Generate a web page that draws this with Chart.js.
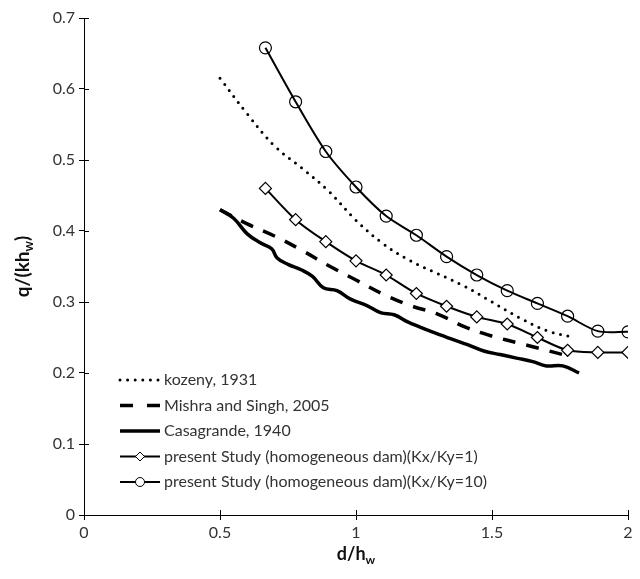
<!DOCTYPE html>
<html>
<head>
<meta charset="utf-8">
<script src="https://cdn.jsdelivr.net/npm/chart.js@4/dist/chart.umd.min.js"></script>
<style>
    html, body { margin: 0; background: #fff; }
</style>
</head>
<body>
<canvas id="seepage-chart" width="640" height="579"></canvas>
<script>
/* seepage discharge vs. d/hw */
const studyX = [0.667, 0.778, 0.889, 1.0, 1.111, 1.222, 1.333, 1.444, 1.556, 1.667, 1.778, 1.889, 2.0]
const studyK1 = [0.46, 0.416, 0.385, 0.358, 0.338, 0.312, 0.294, 0.279, 0.269, 0.25, 0.232, 0.229, 0.229]
const studyK10 = [0.658, 0.582, 0.512, 0.462, 0.421, 0.394, 0.364, 0.338, 0.316, 0.298, 0.28, 0.259, 0.258]

const kozenyX = [0.5, 0.6, 0.7, 0.8, 0.9, 1.0, 1.1, 1.2, 1.3, 1.4, 1.5, 1.6, 1.7, 1.8]
const kozenyY = [0.615, 0.565, 0.52, 0.489, 0.456, 0.415, 0.382, 0.358, 0.34, 0.322, 0.3, 0.278, 0.26, 0.25]

const mishraX = [0.5, 0.6, 0.7, 0.8, 0.9, 1.0, 1.1, 1.2, 1.3, 1.4, 1.5, 1.6, 1.7, 1.78]
const mishraY = [0.43, 0.41, 0.393, 0.373, 0.351, 0.331, 0.311, 0.295, 0.283, 0.265, 0.252, 0.242, 0.232, 0.224]

const casaX = [0.5, 0.55, 0.6, 0.65, 0.69, 0.71, 0.75, 0.8, 0.84, 0.88, 0.93, 0.98, 1.04, 1.09, 1.14, 1.19, 1.24, 1.28, 1.35, 1.41, 1.47, 1.53, 1.59, 1.65, 1.7, 1.76, 1.82]
const casaY = [0.43, 0.418, 0.396, 0.383, 0.375, 0.362, 0.353, 0.345, 0.336, 0.32, 0.316, 0.304, 0.295, 0.285, 0.282, 0.272, 0.264, 0.258, 0.248, 0.24, 0.231, 0.226, 0.221, 0.216, 0.21, 0.21, 0.2]

const xTicks = [0, 0.5, 1, 1.5, 2]
const yTicks = [0, 0.1, 0.2, 0.3, 0.4, 0.5, 0.6, 0.7]

const labels = [
    'kozeny, 1931',
    'Mishra and Singh, 2005',
    'Casagrande, 1940',
    'present Study (homogeneous dam)(Kx/Ky=1)',
    'present Study (homogeneous dam)(Kx/Ky=10)'
]

const pts = (xs, ys) => xs.map((x, i) => ({ x: x, y: ys[i] }))
const fmt = v => String(Number(v.toFixed(2)))

const TXT = '#333'
const FONT = 'Lato, "DejaVu Sans", sans-serif'

// text with a subscript part, centred on (cx, cy)
function subText(ctx, main, sub, tail, cx, cy, size) {
    ctx.font = 'bold ' + size + 'px ' + FONT
    const w1 = ctx.measureText(main).width
    const w3 = ctx.measureText(tail).width
    ctx.font = 'bold ' + Math.round(size * 0.68) + 'px ' + FONT
    const w2 = ctx.measureText(sub).width
    let x = cx - (w1 + w2 + w3) / 2
    ctx.textAlign = 'left'
    ctx.textBaseline = 'middle'
    ctx.font = 'bold ' + size + 'px ' + FONT
    ctx.fillText(main, x, cy)
    x += w1
    ctx.font = 'bold ' + Math.round(size * 0.68) + 'px ' + FONT
    ctx.fillText(sub, x, cy + size * 0.32)
    x += w2
    ctx.font = 'bold ' + size + 'px ' + FONT
    ctx.fillText(tail, x, cy)
}

const extras = {
    id: 'extras',
    afterDraw(chart) {
        const ctx = chart.ctx
        const area = chart.chartArea
        const sx = chart.scales.x
        const sy = chart.scales.y
        ctx.save()

        // inner half of the tick marks
        ctx.strokeStyle = '#000'
        ctx.lineWidth = 1
        ctx.beginPath()
        sx.ticks.forEach(t => {
            const px = Math.round(sx.getPixelForValue(t.value)) + 0.5
            ctx.moveTo(px, area.bottom)
            ctx.lineTo(px, area.bottom - 5)
        })
        sy.ticks.forEach(t => {
            const py = Math.round(sy.getPixelForValue(t.value)) + 0.5
            ctx.moveTo(area.left, py)
            ctx.lineTo(area.left + 5, py)
        })
        ctx.stroke()

        // axis titles
        ctx.fillStyle = '#111'
        subText(ctx, 'd/h', 'w', '', (area.left + area.right) / 2, 554, 18)
        ctx.save()
        ctx.translate(23, (area.top + area.bottom) / 2)
        ctx.rotate(-Math.PI / 2)
        subText(ctx, 'q/(kh', 'w', ')', 0, 0, 19)
        ctx.restore()

        // legend
        const lx = 120, lw = 40, ly = 380, step = 25.5
        chart.data.datasets.forEach((ds, i) => {
            const y = ly + i * step
            ctx.save()
            ctx.strokeStyle = ds.borderColor
            ctx.lineWidth = ds.borderWidth
            ctx.lineCap = ds.borderCapStyle || 'butt'
            ctx.setLineDash(ds.legendDash || ds.borderDash || [])
            ctx.beginPath()
            ctx.moveTo(lx, y)
            ctx.lineTo(lx + lw, y)
            ctx.stroke()
            ctx.restore()
            if (ds.pointRadius > 0) {
                ctx.save()
                ctx.fillStyle = '#fff'
                ctx.strokeStyle = '#000'
                ctx.lineWidth = 1
                Chart.helpers.drawPoint(ctx, { pointStyle: ds.pointStyle, radius: 4.5, borderWidth: 1 }, lx + lw / 2, y)
                ctx.restore()
            }
            ctx.fillStyle = TXT
            ctx.font = '16px ' + FONT
            ctx.textAlign = 'left'
            ctx.textBaseline = 'middle'
            ctx.fillText(labels[i], lx + lw + 4, y)
        })
        ctx.restore()
    }
}

new Chart(document.getElementById('seepage-chart'), {
    type: 'line',
    data: {
        datasets: [
            {
                label: labels[0],
                data: pts(kozenyX, kozenyY),
                borderColor: '#000',
                borderWidth: 3,
                borderDash: [0, 7.6],
                legendDash: [0, 7.6],
                borderCapStyle: 'round',
                pointRadius: 0,
                tension: 0.4,
                fill: false
            },
            {
                label: labels[1],
                data: pts(mishraX, mishraY),
                borderColor: '#000',
                borderWidth: 3.5,
                borderDash: [13, 11],
                legendDash: [13, 14],
                pointRadius: 0,
                tension: 0.4,
                fill: false
            },
            {
                label: labels[2],
                data: pts(casaX, casaY),
                borderColor: '#000',
                borderWidth: 3.5,
                pointRadius: 0,
                tension: 0.4,
                fill: false
            },
            {
                label: labels[3],
                data: pts(studyX, studyK1),
                borderColor: '#000',
                borderWidth: 2,
                pointStyle: 'rectRot',
                pointRadius: 6,
                pointBackgroundColor: '#fff',
                pointBorderColor: '#000',
                pointBorderWidth: 1.2,
                tension: 0.3,
                fill: false
            },
            {
                label: labels[4],
                data: pts(studyX, studyK10),
                borderColor: '#000',
                borderWidth: 2,
                pointStyle: 'circle',
                pointRadius: 6,
                pointBackgroundColor: 'rgba(255,255,255,0)',
                pointBorderColor: '#000',
                pointBorderWidth: 1.2,
                tension: 0.3,
                fill: false
            }
        ]
    },
    options: {
        responsive: false,
        animation: false,
        layout: { padding: { top: 18, right: 12, left: 0, bottom: 0 } },
        plugins: {
            legend: { display: false },
            tooltip: { enabled: false }
        },
        scales: {
            x: {
                type: 'linear',
                min: 0,
                max: 2,
                afterFit: s => { s.height = 64 },
                afterBuildTicks: s => { s.ticks = xTicks.map(v => ({ value: v })) },
                grid: { drawOnChartArea: false, tickLength: 5, color: '#000' },
                border: { color: '#000', width: 1 },
                ticks: { color: TXT, padding: 3, callback: fmt, font: { family: FONT, size: 16 } }
            },
            y: {
                min: 0,
                max: 0.7,
                afterFit: s => { s.width = 84 },
                afterBuildTicks: s => { s.ticks = yTicks.map(v => ({ value: v })) },
                grid: { drawOnChartArea: false, tickLength: 5, color: '#000' },
                border: { color: '#000', width: 1 },
                ticks: { color: TXT, padding: 4, callback: fmt, font: { family: FONT, size: 16 } }
            }
        }
    },
    plugins: [extras]
})
</script>
</body>
</html>
